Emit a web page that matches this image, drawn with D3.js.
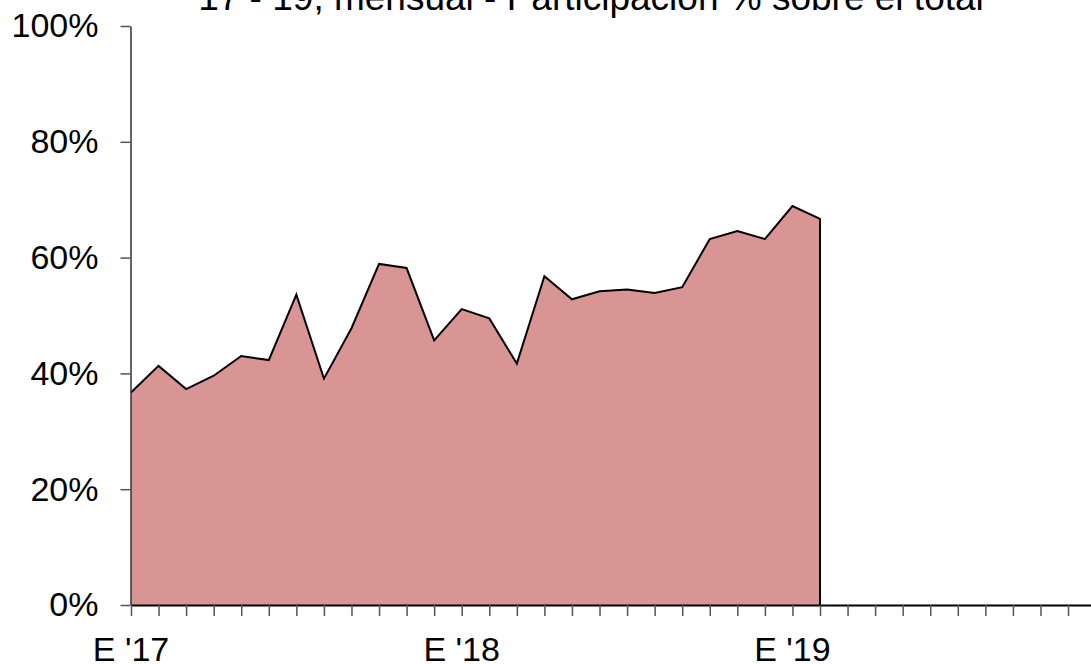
<!DOCTYPE html>
<html>
<head>
<meta charset="utf-8">
<script src="https://cdn.jsdelivr.net/npm/d3@7"></script>
<style>
body { margin: 0; background: #fff; overflow: hidden; }
text { font-family: "Liberation Sans", Arial, sans-serif; fill: #000; }
</style>
</head>
<body>
<svg></svg>
<script>
var title = "17 - 19, mensual - Participación % sobre el total";

// monthly share, Jan 2017 .. Feb 2019 (%)
var values = [36.7, 41.3, 37.3, 39.6, 43.0, 42.3, 53.6, 39.1, 47.8, 58.9, 58.2, 45.7,
              51.1, 49.5, 41.7, 56.8, 52.8, 54.2, 54.5, 53.9, 54.9, 63.2, 64.6, 63.2,
              68.9, 66.7];

var months = d3.range(36); // Jan 2017 .. Dec 2019 axis slots
var yTicks = [0, 20, 40, 60, 80, 100];
var xLabels = [{i: 0, text: "E '17"}, {i: 12, text: "E '18"}, {i: 24, text: "E '19"}];

var screen = {width: 1091, height: 664};

var svg = d3.select("svg")
    .attr("width", screen.width)
    .attr("height", screen.height);

var xScale = d3.scaleLinear()
    .domain([0, 35])
    .range([131, 131 + 35 * 27.56]);

var yScale = d3.scaleLinear()
    .domain([0, 100])
    .range([605, 26]);

// area
var area = d3.area()
    .x(function(d, i){ return xScale(i); })
    .y0(yScale(0))
    .y1(function(d){ return yScale(d); });

svg.append("path")
    .datum(values)
    .attr("d", area)
    .attr("fill", "#d99594")
    .attr("stroke", "none");

var line = d3.line()
    .x(function(d, i){ return xScale(i); })
    .y(function(d){ return yScale(d); });

var last = values.length - 1;
svg.append("path")
    .attr("d", line(values) + "L" + xScale(last) + "," + yScale(0))
    .attr("fill", "none")
    .attr("stroke", "#000")
    .attr("stroke-width", 2)
    .attr("stroke-linejoin", "miter");

// y axis
var yAxis = d3.axisLeft(yScale)
    .tickValues(yTicks)
    .tickSize(10)
    .tickSizeOuter(0)
    .tickPadding(22)
    .tickFormat(function(d){ return d + "%"; });

var gy = svg.append("g")
    .attr("transform", "translate(130.5,0)")
    .call(yAxis);
gy.select(".domain").attr("stroke", "#333").attr("stroke-width", 1.5);
gy.selectAll(".tick line").attr("stroke", "#555").attr("stroke-width", 1.5);
gy.selectAll(".tick text")
    .attr("font-size", 34)
    .attr("font-family", "Liberation Sans, Arial, sans-serif")
    .attr("fill", "#000");

// x axis: a tick every month
var xAxis = d3.axisBottom(xScale)
    .tickValues(months)
    .tickSize(11)
    .tickSizeOuter(0)
    .tickFormat("");

var gx = svg.append("g")
    .attr("transform", "translate(0," + yScale(0) + ")")
    .call(xAxis);
gx.select(".domain").attr("stroke", "#000").attr("stroke-width", 2);
gx.selectAll(".tick line").attr("stroke", "#555").attr("stroke-width", 1.5);

svg.selectAll(".xlabel")
    .data(xLabels)
    .enter()
    .append("text")
    .attr("class", "xlabel")
    .attr("x", function(d){ return xScale(d.i); })
    .attr("y", 661)
    .attr("text-anchor", "middle")
    .attr("font-size", 34)
    .text(function(d){ return d.text; });

// title, mostly cut off at the top
svg.append("text")
    .attr("x", 591)
    .attr("y", 10)
    .attr("text-anchor", "middle")
    .attr("font-size", 37)
    .text(title);
</script>
</body>
</html>
